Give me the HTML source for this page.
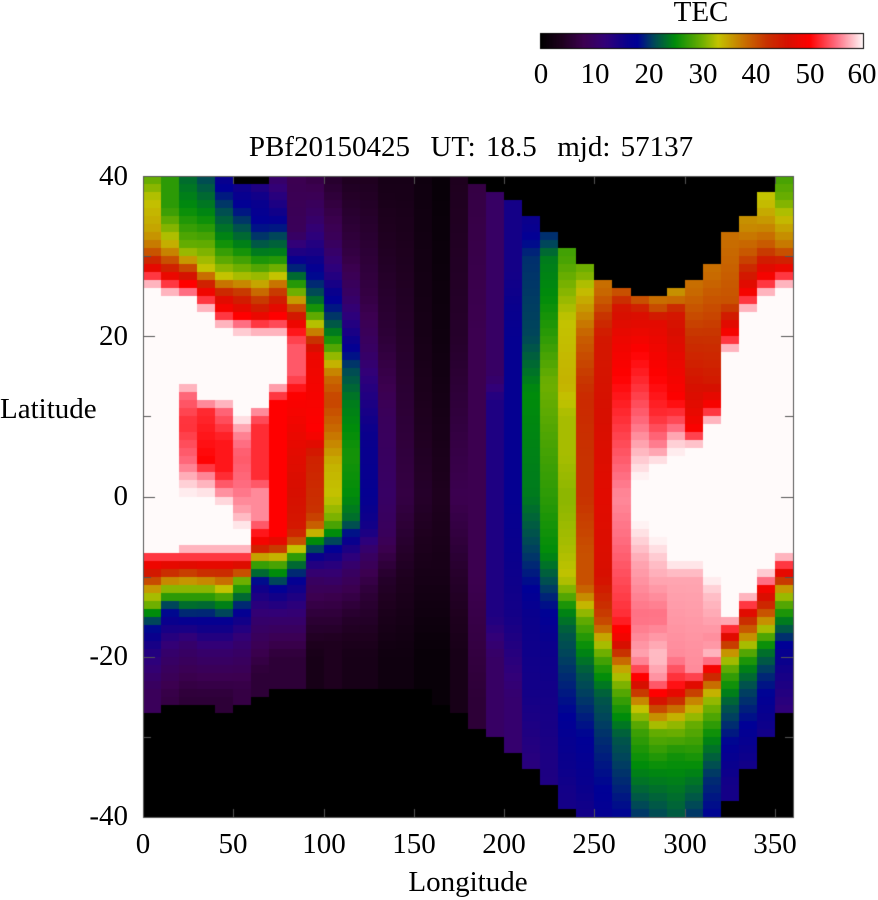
<!DOCTYPE html>
<html><head><meta charset="utf-8"><style>
body{margin:0;background:#fff;width:878px;height:900px;overflow:hidden;position:relative;font-family:"Liberation Serif",serif;}
.t{position:absolute;font-size:29px;color:#000;white-space:nowrap;line-height:1;}
.c{transform:translateX(-50%);}
.r{transform:translateX(-100%);}
canvas{position:absolute;left:0;top:0;}
</style></head><body>
<canvas id="c" width="878" height="900"></canvas>
<div class="t c" style="left:701px;top:-2px">TEC</div>
<div class="t c" style="left:541px;top:60px">0</div>
<div class="t c" style="left:595px;top:60px">10</div>
<div class="t c" style="left:649px;top:60px">20</div>
<div class="t c" style="left:703px;top:60px">30</div>
<div class="t c" style="left:756px;top:60px">40</div>
<div class="t c" style="left:810px;top:60px">50</div>
<div class="t c" style="left:862px;top:60px">60</div>
<div class="t c" style="left:471px;top:133px;word-spacing:3px">PBf20150425&nbsp; UT: 18.5&nbsp; mjd: 57137</div>
<div class="t r" style="left:128px;top:162px">40</div>
<div class="t r" style="left:128px;top:322px">20</div>
<div class="t r" style="left:128px;top:482px">0</div>
<div class="t r" style="left:128px;top:642px">-20</div>
<div class="t r" style="left:128px;top:802px">-40</div>
<div class="t" style="left:0px;top:395px">Latitude</div>
<div class="t c" style="left:143px;top:830px">0</div>
<div class="t c" style="left:233px;top:830px">50</div>
<div class="t c" style="left:324px;top:830px">100</div>
<div class="t c" style="left:414px;top:830px">150</div>
<div class="t c" style="left:504px;top:830px">200</div>
<div class="t c" style="left:594px;top:830px">250</div>
<div class="t c" style="left:685px;top:830px">300</div>
<div class="t c" style="left:775px;top:830px">350</div>
<div class="t c" style="left:468px;top:868px">Longitude</div>
<script>
var stops=[[0,0,0,0],[4,30,0,30],[8,60,0,80],[12,50,0,120],[16,10,0,140],[18,0,0,150],[21,0,70,90],[25,0,140,10],[30,110,175,0],[33,195,195,0],[38,200,110,0],[42,200,50,0],[46,215,15,0],[50,255,0,0],[55,255,110,130],[60,255,250,250]];
function col(v){v=Math.max(0,Math.min(60,v));for(var i=1;i<stops.length;i++){if(v<=stops[i][0]){var a=stops[i-1],b=stops[i],t=(v-a[0])/(b[0]-a[0]);return 'rgb('+Math.round(a[1]+t*(b[1]-a[1]))+','+Math.round(a[2]+t*(b[2]-a[2]))+','+Math.round(a[3]+t*(b[3]-a[3]))+')';}}return '#fff';}
var C=[
[40,-26.5,[[40,29],[37,33],[33,35],[31,38],[29,45],[28,50],[27,55],[26,60],[-6.5,60],[-7,55],[-8,50],[-9.5,45],[-11,38],[-12,33],[-13.5,30],[-14.5,25],[-15.5,21],[-17,17],[-19,14],[-24,9]]],
[40,-25.5,[[40,27],[36,27],[34,30],[32,33],[30,38],[28,46],[27,50],[26,55],[25,60],[-6.5,60],[-7,55],[-8,50],[-10,40],[-11,33],[-12.5,27],[-13.5,21],[-15,17],[-19,11],[-25,7]]],
[40,-25.5,[[40,23],[36,25],[31,30],[30,33],[29,38],[27,48],[26,52],[25.5,55],[24.5,60],[14,60],[13,55],[9,52],[4,55],[2,58],[0,60],[-6,60],[-7,55],[-8,50],[-9.7,40],[-11,33],[-13,25],[-15,18],[-18,11],[-25,6]]],
[40,-25.5,[[40,21],[35,25],[31,30],[28.5,33],[27.5,38],[26,47],[25,50],[24,55],[23,60],[12,60],[11,52],[4,50],[3,55],[0,60],[-6,60],[-7,55],[-8,50],[-10,40],[-11,33],[-12.5,27],[-14,21],[-15.5,17],[-19,11],[-25,6]]],
[40,-26.5,[[40,16],[36,21],[32,25],[29,30],[27.5,33],[26,40],[25,46],[23,50],[22,55],[21,60],[12,60],[11,55],[7,51],[3,51],[1,55],[-1,60],[-6,60],[-7,55],[-8,50],[-9,45],[-10.5,38],[-11.5,33],[-13,26],[-14.5,21],[-15.5,17],[-19,11],[-25,6]]],
[39,-25.5,[[40,14],[37,17],[34,21],[31,25],[28.5,30],[27,33],[26,40],[24,46],[22.5,50],[21.5,55],[20,60],[10,60],[8,56],[5,54],[1,55],[-2,57],[-4,60],[-6,60],[-7,55],[-8,50],[-9.5,40],[-10.5,30],[-12,25],[-13,21],[-15,16],[-18,11],[-24,7]]],
[39,-25,[[40,12],[37,16],[34,18],[32,21],[30,25],[28,30],[27,33],[25,40],[23,46],[22,50],[21,55],[20,60],[11.5,60],[10.5,56],[9,52],[2,52],[1,56],[-3,56],[-4,52],[-6,48],[-7,40],[-8,30],[-9,25],[-10,21],[-11,16],[-15,11],[-22,6]]],
[40,-23.5,[[40,10],[35,16],[32.5,21],[30,25],[28.5,30],[27.5,33],[26,40],[24,46],[22.5,50],[21,55],[20,60],[14.5,60],[13,55],[12,50],[-5,50],[-6,45],[-7,38],[-8,30],[-9.5,25],[-10.5,21],[-12,16],[-15,11],[-20,6]]],
[40,-23.5,[[40,8],[33,9],[30,15],[28,21],[27,25],[25.5,30],[24,38],[22.5,45],[21,50],[19,54],[15,54],[13,50],[5,47],[-4,45],[-5.5,40],[-6.5,33],[-7.5,27],[-9,21],[-11,16],[-14,12],[-20,6]]],
[40,-23.5,[[40,7],[35,10],[30,15],[27,19],[25,22],[23.5,26],[22,31],[21,34],[20,40],[18,48],[8,50],[5,44],[-2,42],[-4,38],[-5,30],[-5.5,25],[-6.5,21],[-7.5,16],[-10,10],[-15,6],[-20,3]]],
[40,-23.5,[[40,5],[32,9],[27,14],[25,17],[22,21],[20,25],[18,30],[16.5,34],[15,38],[12,41],[8,38],[4,34],[0,33],[-3,30],[-4.5,25],[-5.5,21],[-7,16],[-9,12],[-12,8],[-18,4]]],
[40,-23.5,[[40,4],[30,7],[25,10],[22,13],[20,15],[18,18],[16,21],[12,24],[5,26],[0,25],[-3,23],[-4,20],[-6,15],[-9,10],[-15,5],[-20,3]]],
[40,-23.5,[[40,4],[25,7],[18,10],[14,13],[8,16],[0,17],[-4,15],[-7,10],[-12,6],[-20,3]]],
[40,-23.5,[[40,3],[20,6],[10,9],[0,10],[-5,9],[-10,5],[-20,2]]],
[40,-23.5,[[40,3],[20,5],[0,7],[-10,4],[-20,2]]],
[40,-24,[[40,2],[20,3],[0,5],[-10,3],[-20,1]]],
[40,-26,[[40,1],[20,2],[0,4],[-10,3],[-20,1]]],
[40,-27,[[40,4],[20,5],[0,8],[-10,5],[-20,3]]],
[39,-29,[[40,7],[20,8],[-10,8],[-25,6]]],
[37.7,-30,[[40,10],[15,10],[12,14],[-15,14],[-20,10]]],
[36.7,-32,[[40,15],[28,15],[20,17],[0,17],[-15,15],[-25,11]]],
[34.7,-34.4,[[40,16],[34,16],[30,20],[20,21],[13,25],[0,24],[-8,20],[-15,16],[-25,15],[-33,13]]],
[32.7,-36.4,[[40,20],[32,20],[30,24],[25,25],[20,27],[14,30],[5,28],[0,27],[-7,25],[-10,22],[-13,19],[-18,16],[-25,15],[-35,14]]],
[30.7,-38.5,[[40,28],[30,28],[27,30],[22,33],[14,34],[10,32],[5,32],[0,31],[-6,32],[-10,33],[-12,30],[-14,25],[-17,22],[-22,20],[-30,17],[-37,15]]],
[28.7,-40,[[40,30],[28,30],[26,33],[24,35],[20,39],[12,43],[5,42],[0,42],[-7,40],[-11,40],[-13,35],[-15,30],[-18,26],[-22,22],[-30,18],[-40,15]]],
[26.7,-40,[[40,38],[26,38],[24,40],[20,45],[10,46],[0,47],[-10,46],[-16,40],[-18,33],[-21,27],[-25,22],[-30,20],[-40,17]]],
[25.7,-40,[[40,40],[25,40],[24,45],[20,48],[10,52],[5,54],[0,56],[-5,55],[-15,52],[-18,48],[-20,40],[-22,33],[-25,28],[-30,22],[-40,18]]],
[24.7,-40,[[40,40],[24.5,40],[23,46],[18,50],[14,52],[9,55],[5,58],[2,60],[-3,60],[-8,57],[-15,55],[-20,57],[-22,52],[-24,44],[-26,34],[-29,28],[-35,24],[-40,20]]],
[24.7,-40,[[40,38],[24,38],[22,47],[15,50],[10,52],[6,56],[4,60],[-5,60],[-8,58],[-15,55],[-20,58],[-23,56],[-25,48],[-27,38],[-29,30],[-34,25],[-40,21]]],
[25.7,-40,[[40,36],[25,36],[23,45],[12,50],[9,54],[7,58],[5,60],[-8,60],[-10,57],[-20,56],[-24,50],[-26,40],[-28,32],[-32,26],[-40,22]]],
[26.7,-40,[[40,38],[26,38],[20,42],[10,48],[8,50],[7,56],[6,60],[-8,60],[-10,57],[-22,56],[-23,50],[-25,38],[-28,30],[-35,24],[-40,20]]],
[28.7,-40,[[40,38],[28,38],[20,42],[14,45],[11,50],[10,55],[9,60],[-10,60],[-12,58],[-18,56],[-20,58],[-21,52],[-23,40],[-25,32],[-30,25],[-35,20],[-40,18]]],
[32.7,-38.3,[[40,38],[32,38],[24,40],[22,46],[20,50],[19,55],[18,60],[-15,60],[-16,54],[-17,50],[-18,44],[-20,33],[-22,28],[-26,22],[-32,17],[-36,15]]],
[34.7,-34,[[40,36],[34,36],[30,40],[27,46],[25,50],[24,55],[23,60],[-12,60],[-13,55],[-14,50],[-15,44],[-17,38],[-19,30],[-21,25],[-24,21],[-30,17],[-34,15]]],
[37.7,-30,[[40,33],[37,33],[34,36],[31,40],[29,46],[27,50],[26,55],[25,60],[-9,60],[-10.5,55],[-11,50],[-13,45],[-15,38],[-17,30],[-19,24],[-22,20],[-26,17],[-30,15]]],
[39.7,-27,[[40,28],[37,30],[35,33],[31,38],[29,46],[28,50],[27,55],[26,60],[-7,60],[-8,55],[-9,50],[-10,45],[-11,38],[-12,33],[-13,30],[-15,25],[-17,21],[-19,17],[-22,15],[-27,12]]]
];
function prof(p,lat){if(lat>=p[0][0])return p[0][1];for(var i=1;i<p.length;i++){if(lat>=p[i][0]){var a=p[i-1],b=p[i];return a[1]+(lat-a[0])/(b[0]-a[0])*(b[1]-a[1]);}}return p[p.length-1][1];}
var c=document.getElementById('c').getContext('2d');
var X0=143,X1=793,Y0=176,Y1=817;
c.fillStyle='#000';c.fillRect(X0,Y0,X1-X0,Y1-Y0);
for(var k=0;k<36;k++){var cc=C[k];var xa=Math.round(X0+k*(X1-X0)/36),xb=Math.round(X0+(k+1)*(X1-X0)/36);
for(var r=0;r<80;r++){var lat=40-r-0.5;if(lat>cc[0]||lat<cc[1])continue;
c.fillStyle=col(prof(cc[2],lat));var ya=Math.round(Y0+r*(Y1-Y0)/80),yb=Math.round(Y0+(r+1)*(Y1-Y0)/80);c.fillRect(xa,ya,xb-xa,yb-ya);}}
for(var p=0;p<323;p++){c.fillStyle=col(p/323*60);c.fillRect(540+p,33,1,15);}
c.strokeStyle='#000';c.lineWidth=1;c.strokeRect(540.5,33.5,323,15);
c.strokeStyle='#555';c.strokeRect(X0+0.5,Y0+0.5,X1-X0,Y1-Y0);
c.beginPath();
for(var t=0;t<=7;t++){var x=X0+t*50*(X1-X0)/360;x=Math.round(x)+0.5;c.moveTo(x,Y1);c.lineTo(x,Y1-8);c.moveTo(x,Y0);c.lineTo(x,Y0+8);}
for(var t=0;t<=8;t++){var y=Math.round(Y0+t*(Y1-Y0)/8)+0.5;var L=(t%2==0)?12:8;c.moveTo(X0,y);c.lineTo(X0+L,y);c.moveTo(X1,y);c.lineTo(X1-L,y);}
c.stroke();
</script>
</body></html>
